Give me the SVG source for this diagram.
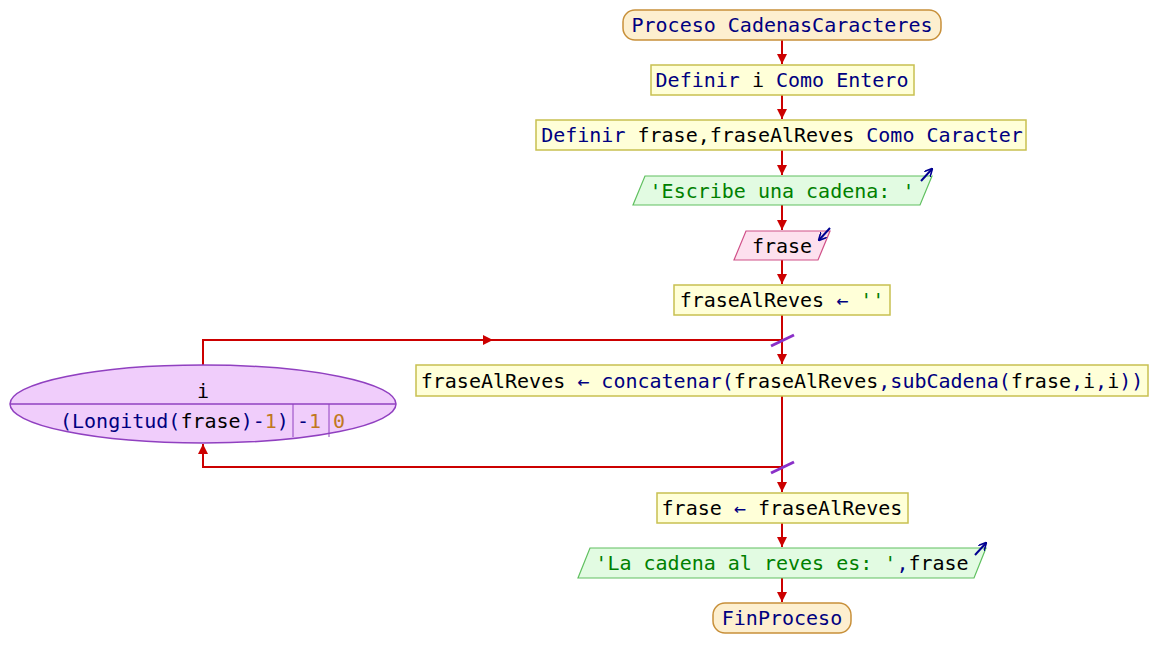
<svg xmlns="http://www.w3.org/2000/svg" width="1158" height="668" viewBox="0 0 1158 668">
<defs>
<style>
text{font-family:"DejaVu Sans Mono","Liberation Mono",monospace;font-size:20px;fill:#000}
.k{fill:#000080}.s{fill:#008000}.n{fill:#c07820}
.term{fill:#fdefcf;stroke:#c8903a;stroke-width:1.5}
.proc{fill:#ffffd8;stroke:#c8c050;stroke-width:1.5}
.out{fill:#e2fbe2;stroke:#60c060;stroke-width:1.2}
.in{fill:#fde0ee;stroke:#d05088;stroke-width:1.2}
.loop{fill:#f0cdfb;stroke:#9040c0;stroke-width:1.5}
.flow{fill:none;stroke:#cc0000;stroke-width:2}
.icon{fill:none;stroke:#000090;stroke-width:2}
.slash{stroke:#8a30c8;stroke-width:3}
</style>
<marker id="ah" viewBox="0 0 10 10" refX="10" refY="5" markerWidth="10" markerHeight="10" markerUnits="userSpaceOnUse" orient="auto">
<path d="M0,0 L10,5 L0,10 Z" fill="#cc0000"/>
</marker>
<marker id="ib" viewBox="0 0 10 10" refX="9" refY="5" markerWidth="8" markerHeight="8" markerUnits="userSpaceOnUse" orient="auto">
<path d="M0,0 L10,5 L0,10" fill="none" stroke="#000090" stroke-width="2"/>
</marker>
</defs>
<rect width="1158" height="668" fill="#fff"/>
<g id="connectors">
<line class="flow" x1="782" y1="40" x2="782" y2="64" marker-end="url(#ah)"/>
<line class="flow" x1="782" y1="95" x2="782" y2="119" marker-end="url(#ah)"/>
<line class="flow" x1="782" y1="150" x2="782" y2="175" marker-end="url(#ah)"/>
<line class="flow" x1="782" y1="205" x2="782" y2="230" marker-end="url(#ah)"/>
<line class="flow" x1="782" y1="260" x2="782" y2="284" marker-end="url(#ah)"/>
<line class="flow" x1="782" y1="315" x2="782" y2="364" marker-end="url(#ah)"/>
<polyline class="flow" points="203,365 203,340 782,340"/>
<line class="flow" x1="470" y1="340" x2="493" y2="340" marker-end="url(#ah)"/>
<line class="slash" x1="771" y1="346" x2="794" y2="335"/>
<line class="flow" x1="782" y1="396" x2="782" y2="492" marker-end="url(#ah)"/>
<polyline class="flow" points="782,467 203,467 203,444" marker-end="url(#ah)"/>
<line class="slash" x1="771" y1="473" x2="794" y2="462"/>
<line class="flow" x1="782" y1="523" x2="782" y2="547" marker-end="url(#ah)"/>
<line class="flow" x1="782" y1="578" x2="782" y2="602" marker-end="url(#ah)"/>
</g>
<g id="n1">
<rect class="term" x="623" y="10" width="318" height="30" rx="12"/>
<text x="782" y="32" text-anchor="middle"><tspan class="k">Proceso</tspan> <tspan class="k">CadenasCaracteres</tspan></text>
</g>
<g id="n2">
<rect class="proc" x="651" y="65" width="263" height="30"/>
<text x="782" y="87" text-anchor="middle"><tspan class="k">Definir</tspan> i <tspan class="k">Como</tspan> <tspan class="k">Entero</tspan></text>
</g>
<g id="n3">
<rect class="proc" x="536" y="120" width="490" height="30"/>
<text x="782" y="142" text-anchor="middle"><tspan class="k">Definir</tspan> frase,fraseAlReves <tspan class="k">Como</tspan> <tspan class="k">Caracter</tspan></text>
</g>
<g id="n4">
<polygon class="out" points="645,176 932,176 920,205 633,205"/>
<text x="782" y="198" text-anchor="middle" class="s">'Escribe una cadena: '</text>
<line class="icon" x1="921" y1="181" x2="932" y2="169" marker-end="url(#ib)"/>
</g>
<g id="n5">
<polygon class="in" points="746,231 830,231 818,260 734,260"/>
<text x="782" y="253" text-anchor="middle">frase</text>
<line class="icon" x1="830" y1="228" x2="819" y2="240" marker-end="url(#ib)"/>
</g>
<g id="n6">
<rect class="proc" x="674" y="285" width="216" height="30"/>
<text x="782" y="307" text-anchor="middle">fraseAlReves <tspan class="k">←</tspan> <tspan class="s">''</tspan></text>
</g>
<g id="n7">
<ellipse class="loop" cx="203" cy="404" rx="193" ry="39"/>
<line x1="10" y1="404" x2="396" y2="404" stroke="#9040c0" stroke-width="1.5"/>
<line x1="293" y1="404" x2="293" y2="437" stroke="#9040c0" stroke-width="1"/>
<line x1="329" y1="404" x2="329" y2="437" stroke="#9040c0" stroke-width="1"/>
<text x="203" y="398" text-anchor="middle">i</text>
<text x="60" y="428"><tspan class="k">(Longitud(</tspan>frase<tspan class="k">)-</tspan><tspan class="n">1</tspan><tspan class="k">)</tspan></text>
<text x="297" y="428"><tspan class="k">-</tspan><tspan class="n">1</tspan></text>
<text x="333" y="428" class="n">0</text>
</g>
<g id="n8">
<rect class="proc" x="416" y="365" width="732" height="31"/>
<text x="782" y="388" text-anchor="middle">fraseAlReves <tspan class="k">←</tspan> <tspan class="k">concatenar(</tspan>fraseAlReves<tspan class="k">,subCadena(</tspan>frase<tspan class="k">,</tspan>i<tspan class="k">,</tspan>i<tspan class="k">))</tspan></text>
</g>
<g id="n9">
<rect class="proc" x="657" y="493" width="251" height="30"/>
<text x="782" y="515" text-anchor="middle">frase <tspan class="k">←</tspan> fraseAlReves</text>
</g>
<g id="n10">
<polygon class="out" points="590,548 986,548 974,578 578,578"/>
<text x="782" y="570" text-anchor="middle"><tspan class="s">'La cadena al reves es: '</tspan><tspan class="k">,</tspan>frase</text>
<line class="icon" x1="975" y1="555" x2="986" y2="543" marker-end="url(#ib)"/>
</g>
<g id="n11">
<rect class="term" x="713" y="603" width="138" height="30" rx="12"/>
<text x="782" y="625" text-anchor="middle" class="k">FinProceso</text>
</g>
</svg>
